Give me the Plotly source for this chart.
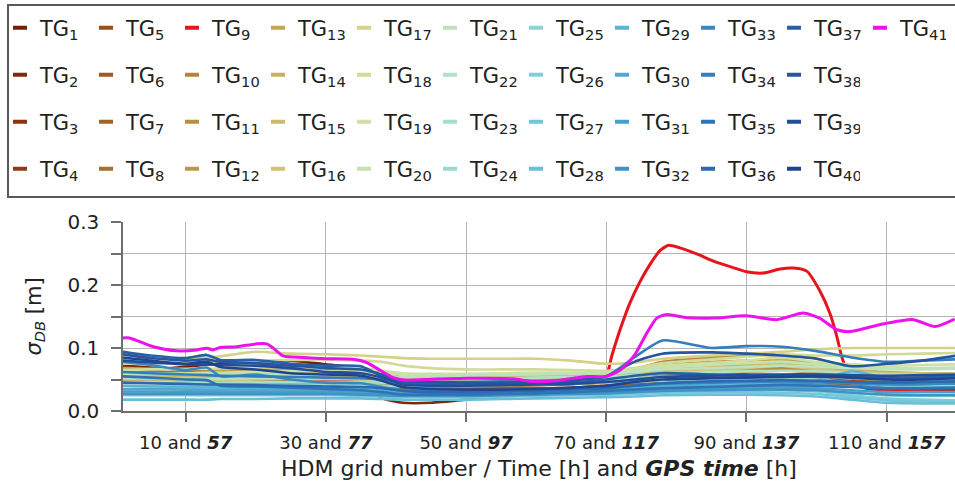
import plotly.graph_objects as go

# HDM grid numbers shared by the tide-gauge series TG1-TG40 (TG9 has its own samples)
grid_x = [1, 5, 10, 13, 15, 20, 25, 30, 35, 38, 41, 45, 50, 55, 60, 65, 70, 74, 78, 85, 90, 95, 100, 105, 110, 115, 120]

tg01 = [0.069, 0.066, 0.070, 0.074, 0.076, 0.079, 0.080, 0.074, 0.068, 0.062, 0.052, 0.048, 0.046, 0.045, 0.044, 0.045, 0.047, 0.055, 0.060, 0.061, 0.058, 0.057, 0.055, 0.052, 0.050, 0.053, 0.055]
tg02 = [0.072, 0.069, 0.065, 0.063, 0.062, 0.060, 0.058, 0.055, 0.040, 0.020, 0.013, 0.013, 0.018, 0.024, 0.027, 0.030, 0.033, 0.036, 0.040, 0.045, 0.048, 0.050, 0.048, 0.040, 0.035, 0.033, 0.032]
tg03 = [0.060, 0.058, 0.056, 0.055, 0.058, 0.062, 0.063, 0.064, 0.062, 0.055, 0.046, 0.042, 0.040, 0.040, 0.041, 0.043, 0.046, 0.052, 0.058, 0.057, 0.052, 0.050, 0.049, 0.046, 0.044, 0.045, 0.046]
tg04 = [0.050, 0.049, 0.047, 0.046, 0.046, 0.048, 0.050, 0.052, 0.050, 0.045, 0.038, 0.035, 0.034, 0.035, 0.036, 0.037, 0.040, 0.044, 0.048, 0.049, 0.047, 0.046, 0.046, 0.044, 0.042, 0.043, 0.044]
tg05 = [0.065, 0.063, 0.061, 0.062, 0.060, 0.058, 0.057, 0.056, 0.054, 0.050, 0.044, 0.042, 0.041, 0.042, 0.044, 0.046, 0.050, 0.060, 0.070, 0.075, 0.073, 0.070, 0.062, 0.055, 0.050, 0.048, 0.047]
tg06 = [0.055, 0.054, 0.052, 0.050, 0.048, 0.047, 0.046, 0.045, 0.045, 0.043, 0.040, 0.038, 0.037, 0.036, 0.036, 0.037, 0.040, 0.043, 0.046, 0.048, 0.050, 0.052, 0.051, 0.048, 0.046, 0.045, 0.045]
tg07 = [0.048, 0.047, 0.046, 0.045, 0.044, 0.045, 0.046, 0.047, 0.046, 0.042, 0.035, 0.030, 0.026, 0.024, 0.025, 0.028, 0.032, 0.038, 0.042, 0.044, 0.046, 0.045, 0.042, 0.040, 0.038, 0.037, 0.036]
tg08 = [0.058, 0.057, 0.055, 0.056, 0.055, 0.054, 0.053, 0.051, 0.050, 0.047, 0.043, 0.041, 0.040, 0.041, 0.042, 0.043, 0.046, 0.055, 0.064, 0.068, 0.066, 0.065, 0.060, 0.053, 0.050, 0.049, 0.048]
tg10 = [0.062, 0.061, 0.060, 0.060, 0.059, 0.060, 0.061, 0.060, 0.058, 0.053, 0.048, 0.047, 0.047, 0.048, 0.050, 0.052, 0.055, 0.066, 0.078, 0.085, 0.088, 0.088, 0.083, 0.062, 0.056, 0.055, 0.054]
tg11 = [0.052, 0.052, 0.051, 0.050, 0.050, 0.051, 0.052, 0.052, 0.050, 0.047, 0.044, 0.043, 0.043, 0.044, 0.045, 0.046, 0.048, 0.054, 0.060, 0.064, 0.066, 0.068, 0.063, 0.055, 0.052, 0.051, 0.050]
tg12 = [0.045, 0.045, 0.044, 0.043, 0.043, 0.044, 0.045, 0.045, 0.044, 0.042, 0.040, 0.039, 0.039, 0.040, 0.041, 0.043, 0.045, 0.050, 0.056, 0.060, 0.062, 0.064, 0.062, 0.057, 0.054, 0.053, 0.052]
tg13 = [0.068, 0.067, 0.066, 0.066, 0.065, 0.066, 0.066, 0.065, 0.063, 0.058, 0.054, 0.053, 0.053, 0.054, 0.056, 0.057, 0.058, 0.064, 0.072, 0.078, 0.080, 0.082, 0.075, 0.066, 0.062, 0.060, 0.060]
tg14 = [0.060, 0.060, 0.059, 0.058, 0.058, 0.059, 0.060, 0.060, 0.059, 0.056, 0.053, 0.052, 0.052, 0.053, 0.055, 0.056, 0.057, 0.061, 0.066, 0.070, 0.073, 0.076, 0.070, 0.064, 0.061, 0.060, 0.060]
tg15 = [0.055, 0.055, 0.054, 0.054, 0.054, 0.055, 0.056, 0.056, 0.055, 0.053, 0.050, 0.049, 0.049, 0.050, 0.051, 0.052, 0.054, 0.058, 0.063, 0.067, 0.070, 0.080, 0.068, 0.062, 0.060, 0.059, 0.058]
tg16 = [0.050, 0.050, 0.049, 0.049, 0.049, 0.050, 0.051, 0.051, 0.050, 0.048, 0.046, 0.045, 0.045, 0.046, 0.047, 0.048, 0.050, 0.055, 0.060, 0.064, 0.068, 0.072, 0.066, 0.062, 0.060, 0.059, 0.058]
tg17 = [0.082, 0.083, 0.084, 0.085, 0.087, 0.094, 0.091, 0.090, 0.088, 0.086, 0.084, 0.083, 0.083, 0.083, 0.083, 0.080, 0.075, 0.077, 0.083, 0.088, 0.091, 0.094, 0.098, 0.100, 0.100, 0.100, 0.100]
tg18 = [0.075, 0.076, 0.077, 0.078, 0.079, 0.080, 0.081, 0.081, 0.080, 0.078, 0.072, 0.068, 0.066, 0.066, 0.066, 0.065, 0.064, 0.068, 0.076, 0.082, 0.086, 0.090, 0.088, 0.088, 0.090, 0.091, 0.092]
tg19 = [0.065, 0.066, 0.067, 0.067, 0.068, 0.069, 0.070, 0.070, 0.068, 0.064, 0.060, 0.059, 0.059, 0.060, 0.061, 0.061, 0.062, 0.066, 0.072, 0.076, 0.080, 0.085, 0.078, 0.074, 0.072, 0.073, 0.074]
tg20 = [0.058, 0.059, 0.060, 0.061, 0.061, 0.062, 0.063, 0.063, 0.062, 0.060, 0.058, 0.057, 0.057, 0.058, 0.059, 0.060, 0.060, 0.064, 0.069, 0.073, 0.076, 0.078, 0.074, 0.070, 0.068, 0.068, 0.069]
tg21 = [0.060, 0.059, 0.058, 0.058, 0.058, 0.058, 0.058, 0.058, 0.057, 0.056, 0.054, 0.055, 0.056, 0.057, 0.058, 0.059, 0.060, 0.062, 0.066, 0.068, 0.070, 0.072, 0.070, 0.068, 0.066, 0.066, 0.067]
tg22 = [0.052, 0.052, 0.051, 0.051, 0.051, 0.052, 0.052, 0.052, 0.051, 0.050, 0.049, 0.050, 0.051, 0.052, 0.053, 0.054, 0.055, 0.057, 0.060, 0.062, 0.063, 0.064, 0.063, 0.060, 0.058, 0.058, 0.059]
tg23 = [0.046, 0.046, 0.045, 0.045, 0.045, 0.046, 0.046, 0.046, 0.046, 0.045, 0.044, 0.045, 0.046, 0.047, 0.048, 0.049, 0.050, 0.052, 0.054, 0.055, 0.056, 0.057, 0.056, 0.052, 0.050, 0.050, 0.051]
tg24 = [0.040, 0.040, 0.040, 0.040, 0.040, 0.041, 0.041, 0.041, 0.041, 0.040, 0.039, 0.040, 0.041, 0.042, 0.043, 0.044, 0.045, 0.046, 0.048, 0.049, 0.050, 0.051, 0.050, 0.045, 0.040, 0.038, 0.037]
tg25 = [0.035, 0.035, 0.034, 0.034, 0.034, 0.034, 0.034, 0.033, 0.032, 0.031, 0.030, 0.030, 0.030, 0.031, 0.032, 0.033, 0.034, 0.035, 0.037, 0.038, 0.038, 0.038, 0.036, 0.030, 0.025, 0.024, 0.024]
tg26 = [0.030, 0.030, 0.029, 0.029, 0.029, 0.029, 0.029, 0.029, 0.028, 0.027, 0.026, 0.026, 0.026, 0.027, 0.028, 0.029, 0.030, 0.031, 0.033, 0.034, 0.034, 0.033, 0.031, 0.025, 0.020, 0.018, 0.017]
tg27 = [0.025, 0.025, 0.025, 0.025, 0.025, 0.025, 0.025, 0.025, 0.024, 0.023, 0.022, 0.022, 0.022, 0.023, 0.024, 0.025, 0.026, 0.027, 0.029, 0.030, 0.030, 0.029, 0.027, 0.022, 0.017, 0.015, 0.014]
tg28 = [0.018, 0.018, 0.018, 0.018, 0.019, 0.019, 0.020, 0.020, 0.020, 0.019, 0.018, 0.018, 0.018, 0.019, 0.020, 0.021, 0.022, 0.023, 0.025, 0.026, 0.026, 0.025, 0.023, 0.018, 0.013, 0.012, 0.012]
tg29 = [0.040, 0.039, 0.038, 0.038, 0.038, 0.037, 0.037, 0.036, 0.035, 0.033, 0.031, 0.031, 0.031, 0.032, 0.033, 0.034, 0.036, 0.038, 0.041, 0.043, 0.045, 0.046, 0.048, 0.063, 0.052, 0.050, 0.051]
tg30 = [0.035, 0.035, 0.034, 0.034, 0.034, 0.034, 0.033, 0.033, 0.032, 0.030, 0.028, 0.028, 0.028, 0.029, 0.030, 0.031, 0.033, 0.035, 0.038, 0.040, 0.041, 0.042, 0.041, 0.039, 0.037, 0.037, 0.038]
tg31 = [0.031, 0.031, 0.030, 0.030, 0.030, 0.030, 0.030, 0.030, 0.029, 0.028, 0.026, 0.026, 0.026, 0.027, 0.028, 0.029, 0.030, 0.032, 0.034, 0.036, 0.037, 0.037, 0.036, 0.033, 0.030, 0.030, 0.030]
tg32 = [0.027, 0.027, 0.027, 0.027, 0.027, 0.027, 0.027, 0.027, 0.026, 0.025, 0.024, 0.024, 0.024, 0.025, 0.026, 0.027, 0.028, 0.030, 0.032, 0.033, 0.034, 0.034, 0.033, 0.029, 0.026, 0.025, 0.025]
tg33 = [0.078, 0.073, 0.065, 0.069, 0.055, 0.058, 0.050, 0.045, 0.044, 0.038, 0.033, 0.032, 0.032, 0.033, 0.034, 0.035, 0.037, 0.040, 0.043, 0.045, 0.046, 0.047, 0.046, 0.044, 0.042, 0.042, 0.043]
tg34 = [0.062, 0.060, 0.058, 0.057, 0.056, 0.055, 0.054, 0.053, 0.052, 0.050, 0.047, 0.046, 0.046, 0.047, 0.048, 0.050, 0.055, 0.085, 0.112, 0.100, 0.103, 0.102, 0.095, 0.085, 0.078, 0.080, 0.082]
tg35 = [0.055, 0.053, 0.050, 0.049, 0.040, 0.039, 0.037, 0.035, 0.033, 0.030, 0.026, 0.026, 0.026, 0.027, 0.028, 0.030, 0.032, 0.034, 0.036, 0.038, 0.040, 0.041, 0.040, 0.038, 0.036, 0.036, 0.037]
tg36 = [0.045, 0.044, 0.043, 0.042, 0.042, 0.041, 0.040, 0.039, 0.038, 0.036, 0.032, 0.030, 0.030, 0.031, 0.032, 0.034, 0.036, 0.040, 0.044, 0.047, 0.048, 0.049, 0.048, 0.046, 0.045, 0.046, 0.047]
tg37 = [0.094, 0.088, 0.084, 0.089, 0.081, 0.081, 0.075, 0.072, 0.071, 0.055, 0.045, 0.043, 0.042, 0.042, 0.043, 0.045, 0.050, 0.056, 0.060, 0.058, 0.056, 0.055, 0.056, 0.054, 0.052, 0.053, 0.055]
tg38 = [0.090, 0.084, 0.080, 0.082, 0.078, 0.076, 0.072, 0.068, 0.066, 0.058, 0.048, 0.046, 0.045, 0.045, 0.046, 0.048, 0.055, 0.078, 0.091, 0.093, 0.091, 0.088, 0.083, 0.071, 0.075, 0.080, 0.088]
tg39 = [0.080, 0.077, 0.074, 0.074, 0.073, 0.072, 0.068, 0.062, 0.060, 0.053, 0.042, 0.040, 0.040, 0.041, 0.042, 0.043, 0.046, 0.050, 0.054, 0.056, 0.057, 0.058, 0.058, 0.057, 0.056, 0.057, 0.058]
tg40 = [0.085, 0.080, 0.075, 0.078, 0.070, 0.066, 0.060, 0.058, 0.056, 0.048, 0.038, 0.035, 0.034, 0.034, 0.035, 0.037, 0.040, 0.046, 0.050, 0.052, 0.053, 0.054, 0.055, 0.053, 0.050, 0.050, 0.052]

# TG9: the station with the strong excursion after grid 70
tg09_x = [1, 10, 20, 30, 40, 50, 60, 68, 70, 70.8, 72, 73.4, 74.8, 76.2, 77.7, 78.9, 80.5, 83, 85.3, 88, 90, 92.4,
          94.8, 96.7, 98.6, 100.5, 101.9, 102.9, 103.6, 104.5, 106, 108, 114, 120]
tg09 = [0.050, 0.052, 0.055, 0.050, 0.042, 0.045, 0.048, 0.052, 0.057, 0.088, 0.130, 0.172, 0.205, 0.232, 0.255, 0.263,
        0.259, 0.249, 0.238, 0.228, 0.221, 0.219, 0.2255, 0.227, 0.222, 0.190, 0.155, 0.118, 0.086, 0.060, 0.040,
        0.034, 0.034, 0.035]

# TG41
tg41_x = [1, 2, 5.4, 8.7, 11.6, 13, 13.9, 14.9, 17.3, 20.1, 21.6, 22.5, 23.9, 26.8, 30.1, 33.9, 35.8, 37.7, 39.6,
          41.5, 45.3, 50.1, 56.7, 59.6, 62.9, 65.3, 67.2, 70, 72, 73.9, 75.8, 77.2, 78.6, 81.5, 85.3, 90, 94.3, 98.1,
          100.5, 102.9, 104.8, 109, 113.8, 116.9, 119.7]
tg41 = [0.116, 0.116, 0.102, 0.0955, 0.097, 0.0998, 0.097, 0.1008, 0.102, 0.1066, 0.1066, 0.0998, 0.0875, 0.085,
        0.083, 0.082, 0.077, 0.065, 0.053, 0.049, 0.0505, 0.052, 0.051, 0.0467, 0.048, 0.052, 0.0546, 0.055, 0.065,
        0.0865, 0.124, 0.1475, 0.153, 0.148, 0.1475, 0.151, 0.145, 0.1555, 0.147, 0.129, 0.126, 0.137, 0.145, 0.134,
        0.146]

series = {1: tg01, 2: tg02, 3: tg03, 4: tg04, 5: tg05, 6: tg06, 7: tg07, 8: tg08, 10: tg10, 11: tg11, 12: tg12,
          13: tg13, 14: tg14, 15: tg15, 16: tg16, 17: tg17, 18: tg18, 19: tg19, 20: tg20, 21: tg21, 22: tg22,
          23: tg23, 24: tg24, 25: tg25, 26: tg26, 27: tg27, 28: tg28, 29: tg29, 30: tg30, 31: tg31, 32: tg32,
          33: tg33, 34: tg34, 35: tg35, 36: tg36, 37: tg37, 38: tg38, 39: tg39, 40: tg40}
for k, v in series.items():
    if len(v) != len(grid_x):
        raise ValueError(f"TG{k}: {len(v)} values")

colors = [
    "#7a1d08", "#83290b", "#8a330f", "#8f3c13",
    "#98501d", "#9d5b23", "#a16528", "#a66f2e",
    "#e8141b", "#b2863a", "#b78f40", "#bb9846",
    "#c3a652", "#c8b05e", "#ccb96a", "#d0c276",
    "#d5d08a", "#d3d997", "#cfe0a4", "#c6e2ae",
    "#bce3bb", "#b0e2c5", "#a3dfcb", "#97dbd0",
    "#8bd4d3", "#80ced6", "#74c7d8", "#68bfd9",
    "#5bb4d6", "#51a9d1", "#489ecc", "#4093c6",
    "#3989c0", "#347ebb", "#2f74b4", "#2b6aae",
    "#2860a8", "#2557a1", "#224e99", "#1f4591",
    "#ee10ee",
]

x_tick_vals = [10, 30, 50, 70, 90, 110]
x_tick_text = ["10 and <b><i>57</i></b>", "30 and <b><i>77</i></b>", "50 and <b><i>97</i></b>",
               "70 and <b><i>117</i></b>", "90 and <b><i>137</i></b>", "110 and <b><i>157</i></b>"]
y_tick_vals = [0, 0.05, 0.1, 0.15, 0.2, 0.25, 0.3]
y_tick_text = ["0.0", "", "0.1", "", "0.2", "", "0.3"]

FONT = "DejaVu Sans"
INK = "#222222"
AXIS = "#6e6e6e"
GRID = "#b4b4b4"

fig = go.Figure()

for n in range(1, 42):
    if n == 9:
        xs, ys = tg09_x, tg09
    elif n == 41:
        xs, ys = tg41_x, tg41
    else:
        xs, ys = grid_x, series[n]
    fig.add_trace(go.Scatter(
        x=xs, y=ys, mode="lines", showlegend=False, hoverinfo="skip",
        line=dict(color=colors[n - 1], width=3 if n in (9, 41) else 2.6, shape="spline", smoothing=0.6),
    ))

# legend keys: four rows, station numbers running down the columns
for n in range(1, 42):
    row = (n - 1) % 4 + 1
    fig.add_trace(go.Scatter(
        x=[None], y=[None], mode="markers", name=f"TG<sub>{n}</sub>",
        legend="legend" if row == 1 else f"legend{row}",
        marker=dict(symbol="line-ew", size=10, color=colors[n - 1],
                    line=dict(color=colors[n - 1], width=4)),
    ))

PLOT_L, PLOT_R, PLOT_T, PLOT_B = 123, 0, 222, 88
W, H = 955, 499
plot_w = W - PLOT_L - PLOT_R
plot_h = H - PLOT_T - PLOT_B


def px_to_paper_x(px):
    return (px - PLOT_L) / plot_w


def px_to_paper_y(py):
    return (H - PLOT_B - py) / plot_h


legend_base = dict(
    orientation="h", xanchor="left", yanchor="middle", x=px_to_paper_x(0),
    entrywidth=41, entrywidthmode="pixels", itemwidth=30,
    bgcolor="rgba(0,0,0,0)", borderwidth=0,
    font=dict(family=FONT, size=21, color=INK),
)
row_centres = [28, 75, 122, 169]

fig.update_layout(
    width=W, height=H,
    margin=dict(l=PLOT_L, r=PLOT_R, t=PLOT_T, b=PLOT_B, pad=0),
    paper_bgcolor="white", plot_bgcolor="white",
    font=dict(family=FONT, color=INK),
    legend=dict(legend_base, y=px_to_paper_y(row_centres[0])),
    legend2=dict(legend_base, y=px_to_paper_y(row_centres[1])),
    legend3=dict(legend_base, y=px_to_paper_y(row_centres[2])),
    legend4=dict(legend_base, y=px_to_paper_y(row_centres[3])),
    shapes=[dict(type="rect", xref="paper", yref="paper",
                 x0=px_to_paper_x(8), x1=px_to_paper_x(958),
                 y0=px_to_paper_y(197), y1=px_to_paper_y(5),
                 line=dict(color="#5a5a5a", width=2), fillcolor="rgba(0,0,0,0)", layer="above")],
    xaxis=dict(
        range=[1.06, 119.75], tickmode="array", tickvals=x_tick_vals, ticktext=x_tick_text,
        showgrid=True, gridcolor=GRID, gridwidth=1.3, zeroline=False,
        showline=True, linecolor=AXIS, linewidth=1.5,
        ticks="outside", ticklen=9, tickwidth=1.5, tickcolor=AXIS, ticklabelstandoff=6,
        tickfont=dict(family=FONT, size=18, color=INK),
        title=dict(text="HDM grid number / Time [h] and <b><i>GPS time</i></b> [h]",
                   font=dict(family=FONT, size=22, color=INK), standoff=8),
    ),
    yaxis=dict(
        range=[0, 0.3], tickmode="array", tickvals=y_tick_vals, ticktext=y_tick_text,
        showgrid=True, gridcolor=GRID, gridwidth=1.3, zeroline=False,
        showline=True, linecolor=AXIS, linewidth=1.5,
        ticks="outside", ticklen=10, tickwidth=1.5, tickcolor=AXIS, ticklabelstandoff=8,
        tickfont=dict(family=FONT, size=20, color=INK),
        title=dict(text="<i>σ</i><sub><i>DB</i></sub> [m]",
                   font=dict(family=FONT, size=21, color=INK), standoff=20),
    ),
)

fig.write_html("out.html")
